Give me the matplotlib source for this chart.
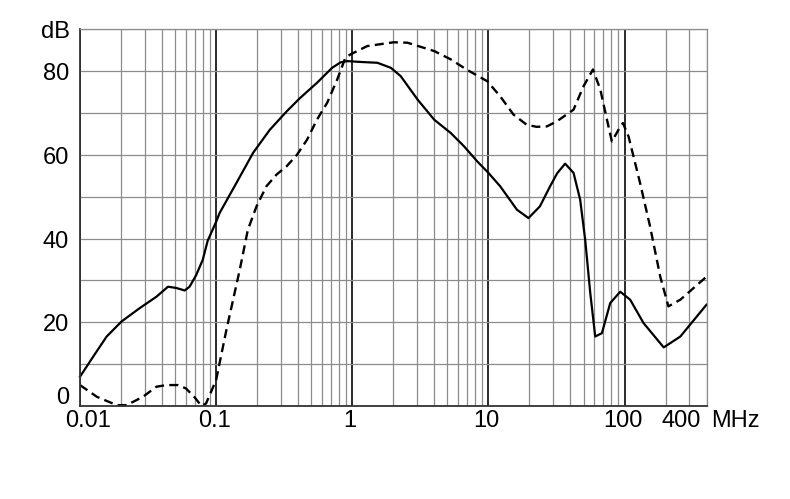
import numpy as np
import matplotlib
matplotlib.use("Agg")
import matplotlib.pyplot as plt
import matplotlib.ticker as mtick

plt.rcParams["font.family"] = ["Liberation Sans", "DejaVu Sans"]
plt.rcParams["lines.scale_dashes"] = False

# curva continua (MHz, dB)
f_solid = [0.01, 0.0125, 0.0157, 0.0202, 0.0275, 0.0364, 0.0443, 0.051, 0.0587, 0.0638,
           0.0714, 0.0797, 0.0867, 0.1, 0.106, 0.141, 0.187, 0.248, 0.33, 0.414, 0.55,
           0.711, 0.82, 0.918, 1.15, 1.53, 1.92, 2.27, 3.02, 4.0, 5.3, 6.64, 8.3, 10,
           12.2, 16.2, 19.7, 23.9, 28.4, 32, 36.6, 42.2, 47.2, 51.4, 56, 60.9, 68.2,
           78.5, 93, 110, 138, 194, 257, 400]
db_solid = [7.0, 11.8, 16.6, 20.2, 23.4, 26.1, 28.5, 28.2, 27.6, 28.5,
            31.3, 34.9, 39.5, 44.0, 46.1, 53.3, 60.5, 66.0, 70.4, 73.6, 77.2,
            80.8, 82.1, 82.4, 82.2, 82.0, 80.8, 78.8, 73.2, 68.4, 65.2, 62.0, 58.4, 55.7,
            52.5, 46.9, 44.9, 47.7, 52.5, 55.6, 57.9, 55.7, 49.3, 39.7, 27.0, 16.6, 17.4,
            24.6, 27.3, 25.4, 19.8, 14.0, 16.6, 24.2]

# curva punteada (MHz, dB)
f_dash = [0.01, 0.0133, 0.0186, 0.022, 0.029, 0.0364, 0.043, 0.0525, 0.060, 0.069,
          0.078, 0.0843, 0.1, 0.119, 0.149, 0.171, 0.198, 0.234, 0.278, 0.33, 0.392,
          0.465, 0.55, 0.653, 0.775, 0.89, 0.97, 1.29, 2.02, 2.54, 4.0, 5.3, 6.9,
          9.8, 12.2, 15.3, 19.1, 22.6, 26.9, 31.8, 42.2, 50, 58.6, 66.4, 74.3, 80.7,
          90.3, 97.3, 107, 130, 154, 183, 210, 257, 400]
db_dash = [5.0, 2.2, 0.2, 0.2, 2.2, 4.6, 5.0, 5.0, 4.2, 2.2,
           0.0, 0.6, 6.2, 18.2, 32.5, 42.1, 47.7, 52.5, 55.3, 57.3, 60.0,
           63.6, 68.4, 72.4, 78.0, 83.2, 84.0, 86.0, 86.9, 86.8, 84.8, 82.8, 80.4,
           77.6, 74.0, 69.6, 67.2, 66.7, 66.8, 68.0, 70.8, 76.4, 80.4, 75.6, 68.4, 63.2,
           66.0, 67.6, 64.4, 53.3, 42.9, 30.9, 23.8, 25.4, 30.9]

x_labels = ["0.01", "0.1", "1", "10", "100"]
x_label_pos = [0.01, 0.1, 1, 10, 100]
y_labels = [0, 20, 40, 60, 80]

fig = plt.figure(figsize=(7.9, 4.99), dpi=100)
ax = fig.add_axes([80 / 790, 1 - 406 / 499, 626.5 / 790, 376.7 / 499])

ax.set_xscale("log")
ax.set_xlim(0.01, 400)
ax.set_ylim(0, 90)

ax.xaxis.set_major_locator(mtick.LogLocator(base=10, numticks=10))
ax.xaxis.set_minor_locator(mtick.LogLocator(base=10, subs=np.arange(2, 10), numticks=20))
ax.yaxis.set_major_locator(mtick.MultipleLocator(10))
ax.xaxis.set_major_formatter(mtick.NullFormatter())
ax.xaxis.set_minor_formatter(mtick.NullFormatter())
ax.yaxis.set_major_formatter(mtick.NullFormatter())
ax.tick_params(which="both", length=0)

# grilla
ax.grid(True, which="minor", axis="x", color="#8c8c8c", linewidth=0.9)
ax.grid(True, which="major", axis="x", color="#2a2a2a", linewidth=1.4)
ax.grid(True, which="major", axis="y", color="#8c8c8c", linewidth=0.9)
ax.set_axisbelow(True)

for s in ["left", "bottom"]:
    ax.spines[s].set_color("#333333")
    ax.spines[s].set_linewidth(1.3)
for s in ["top", "right"]:
    ax.spines[s].set_color("#8c8c8c")
    ax.spines[s].set_linewidth(0.9)

# curvas
ax.plot(f_solid, db_solid, color="black", linewidth=1.6, clip_on=False,
        solid_joinstyle="round")
ax.plot(f_dash, db_dash, color="black", linewidth=1.7, dashes=(6.5, 3.8), clip_on=False)

# etiquetas
fs = 17
for lab, xv in zip(x_labels, x_label_pos):
    dx = 8 if lab == "0.01" else -2
    ax.annotate(lab, (xv, 0), xytext=(dx, -15), textcoords="offset pixels",
                ha="center", va="center", fontsize=fs)
ax.annotate("400", (400, 0), xytext=(-6, -15), textcoords="offset pixels",
            ha="right", va="center", fontsize=fs)
ax.annotate("MHz", (400, 0), xytext=(5, -15), textcoords="offset pixels",
            ha="left", va="center", fontsize=fs)

for v in y_labels:
    dy = 8 if v == 0 else -3
    ax.annotate(str(v), (0.01, v), xytext=(-11, dy), textcoords="offset pixels",
                ha="right", va="center", fontsize=fs, annotation_clip=False)
ax.annotate("dB", (0.01, 90), xytext=(-10, -3), textcoords="offset pixels",
            ha="right", va="center", fontsize=fs, annotation_clip=False)

fig.savefig("out.png", dpi=100)
